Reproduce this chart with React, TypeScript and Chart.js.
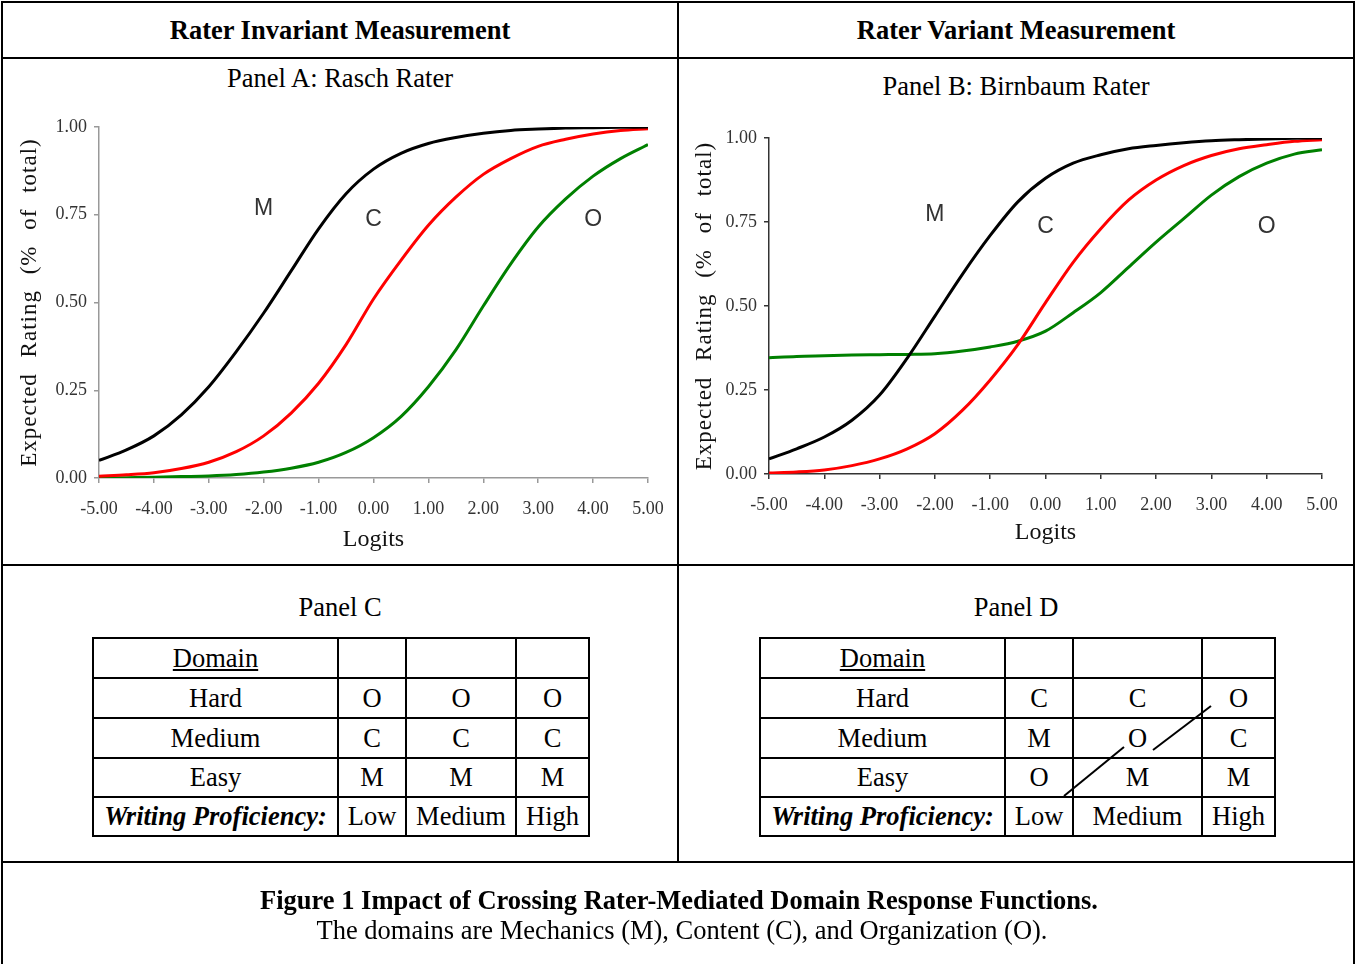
import React, { useEffect, useRef } from "react";
import { Chart, registerables } from "chart.js";

Chart.register(...registerables);

// ---------- data ----------
const LOGITS = [-5, -4.5, -4, -3.5, -3, -2.5, -2, -1.5, -1, -0.5, 0, 0.5, 1, 1.5, 2, 2.5, 3, 3.5, 4, 4.5, 5];

// Panel A: Rasch rater
const RASCH_M = [0.05, 0.08, 0.12, 0.18, 0.26, 0.36, 0.47, 0.59, 0.71, 0.81, 0.88, 0.925, 0.953, 0.97, 0.982, 0.99, 0.994, 0.997, 0.998, 0.999, 1.0];
const RASCH_C = [0.005, 0.009, 0.015, 0.027, 0.045, 0.075, 0.12, 0.185, 0.27, 0.38, 0.51, 0.62, 0.72, 0.8, 0.865, 0.91, 0.945, 0.965, 0.98, 0.99, 0.995];
const RASCH_O = [0.0, 0.001, 0.002, 0.004, 0.006, 0.01, 0.017, 0.028, 0.045, 0.073, 0.115, 0.175, 0.26, 0.365, 0.49, 0.61, 0.715, 0.795, 0.86, 0.91, 0.95];

// Panel B: Birnbaum rater
const BIRN_M = [0.045, 0.075, 0.11, 0.16, 0.235, 0.345, 0.47, 0.595, 0.71, 0.81, 0.88, 0.925, 0.95, 0.968, 0.978, 0.986, 0.992, 0.995, 0.997, 0.999, 1.0];
const BIRN_C = [0.003, 0.006, 0.012, 0.025, 0.045, 0.075, 0.12, 0.19, 0.28, 0.385, 0.51, 0.63, 0.73, 0.815, 0.875, 0.918, 0.948, 0.968, 0.98, 0.99, 0.995];
const BIRN_O = [0.346, 0.35, 0.352, 0.354, 0.355, 0.356, 0.358, 0.366, 0.378, 0.395, 0.425, 0.48, 0.54, 0.615, 0.69, 0.76, 0.83, 0.885, 0.925, 0.952, 0.965];

const DOMAIN_LABELS = ["M", "C", "O"];
const DOMAIN_COLORS = ["#000000", "#ff0000", "#008000"];
const RASCH_LABEL_X = [-2, 0, 4];
const RASCH_LABEL_Y = [0.766, 0.735, 0.735];
const BIRN_LABEL_X = [-2, 0, 4];
const BIRN_LABEL_Y = [0.771, 0.735, 0.735];

const X_TITLE = "Logits";
const Y_TITLE = "Expected Rating (% of total)";

const DIFFICULTY_ROWS = ["Hard", "Medium", "Easy"];
const PROFICIENCY = ["Low", "Medium", "High"];
const PANEL_C = [
  ["O", "O", "O"],
  ["C", "C", "C"],
  ["M", "M", "M"],
];
const PANEL_D = [
  ["C", "C", "O"],
  ["M", "O", "C"],
  ["O", "M", "M"],
];

const SERIF = '"Liberation Serif", "Times New Roman", serif';
const SANS = '"Liberation Sans", Arial, sans-serif';

type ChartProps = {
  left: number;
  top: number;
  width: number;
  height: number;
  series: number[][];
  labelX: number[];
  labelY: number[];
  axisColor: string;
  yWidth: number;
  xHeight: number;
  padTop: number;
  padRight: number;
  yTitlePad: number;
  xTitlePad: number;
  xTickPad: number;
};

function CurveChart(p: ChartProps) {
  const ref = useRef<HTMLCanvasElement | null>(null);
  useEffect(() => {
    if (!ref.current) return;
    const labelPlugin = {
      id: "domainLabels",
      beforeDraw(chart: any) {
        const ys = chart.scales.y;
        if (ys && !ys._lsPatched) {
          const orig = ys.drawTitle.bind(ys);
          ys.drawTitle = function () {
            const ctx = chart.ctx;
            ctx.save();
            (ctx as any).letterSpacing = "1px";
            (ctx as any).wordSpacing = "9px";
            orig();
            ctx.restore();
          };
          ys._lsPatched = true;
        }
      },
      afterDatasetsDraw(chart: any) {
        const ctx = chart.ctx;
        ctx.save();
        ctx.font = `23px ${SANS}`;
        ctx.fillStyle = "#333333";
        ctx.textAlign = "center";
        ctx.textBaseline = "middle";
        DOMAIN_LABELS.forEach((t, i) => {
          ctx.fillText(t, chart.scales.x.getPixelForValue(p.labelX[i]), chart.scales.y.getPixelForValue(p.labelY[i]));
        });
        ctx.restore();
      },
    };
    const chart = new Chart(ref.current, {
      type: "line",
      data: {
        datasets: p.series.map((s, i) => ({
          label: DOMAIN_LABELS[i],
          data: LOGITS.map((x, j) => ({ x, y: s[j] })),
          borderColor: DOMAIN_COLORS[i],
          backgroundColor: DOMAIN_COLORS[i],
          borderWidth: 3,
          pointRadius: 0,
          cubicInterpolationMode: "monotone" as const,
          fill: false,
        })),
      },
      options: {
        animation: false,
        responsive: false,
        events: [],
        layout: { autoPadding: false, padding: { top: p.padTop, right: p.padRight, left: 0, bottom: 0 } },
        plugins: { legend: { display: false }, tooltip: { enabled: false } },
        scales: {
          x: {
            type: "linear",
            min: -5,
            max: 5,
            afterFit: (s: any) => {
              s.height = p.xHeight;
              s.paddingLeft = 0;
              s.paddingRight = 0;
            },
            ticks: {
              stepSize: 1,
              padding: p.xTickPad,
              color: "#333333",
              font: { family: SERIF, size: 18 },
              callback: (v: any) => Number(v).toFixed(2),
            },
            grid: { drawOnChartArea: false, drawTicks: true, tickLength: 5, color: p.axisColor, lineWidth: 1.5 },
            border: { display: true, color: p.axisColor, width: 1.5 },
            title: {
              display: true,
              text: X_TITLE,
              color: "#111111",
              font: { family: SERIF, size: 24 },
              padding: { top: 0, bottom: p.xTitlePad },
            },
          },
          y: {
            type: "linear",
            min: 0,
            max: 1,
            afterFit: (s: any) => {
              s.width = p.yWidth;
              s.paddingTop = 0;
              s.paddingBottom = 0;
            },
            ticks: {
              stepSize: 0.25,
              padding: 7,
              color: "#333333",
              font: { family: SERIF, size: 18 },
              callback: (v: any) => Number(v).toFixed(2),
            },
            grid: { drawOnChartArea: false, drawTicks: true, tickLength: 5, color: p.axisColor, lineWidth: 1.5 },
            border: { display: true, color: p.axisColor, width: 1.5 },
            title: {
              display: true,
              text: Y_TITLE,
              color: "#111111",
              font: { family: SERIF, size: 23 },
              padding: { top: p.yTitlePad, bottom: 0 },
            },
          },
        },
      },
      plugins: [labelPlugin],
    } as any);
    return () => chart.destroy();
  }, []);
  return (
    <canvas
      ref={ref}
      width={p.width}
      height={p.height}
      style={{ position: "absolute", left: p.left, top: p.top, width: p.width, height: p.height }}
    />
  );
}

function Txt({ x, y, children, style }: { x: number; y: number; children: any; style?: any }) {
  return (
    <div
      style={{
        position: "absolute",
        left: x,
        top: y,
        transform: "translate(-50%, -50%)",
        whiteSpace: "nowrap",
        lineHeight: 1,
        fontSize: 26.5,
        ...style,
      }}
    >
      {children}
    </div>
  );
}

function Line({ x, y, w, h }: { x: number; y: number; w: number; h: number }) {
  return <div style={{ position: "absolute", left: x, top: y, width: w, height: h, background: "#000" }} />;
}

function GridTable({ colEdges, rowEdges, cells }: { colEdges: number[]; rowEdges: number[]; cells: any[][] }) {
  const out: any[] = [];
  for (let r = 0; r < rowEdges.length - 1; r++) {
    for (let c = 0; c < colEdges.length - 1; c++) {
      out.push(
        <div
          key={`${r}-${c}`}
          style={{
            position: "absolute",
            left: colEdges[c],
            top: rowEdges[r],
            width: colEdges[c + 1] - colEdges[c] + 2,
            height: rowEdges[r + 1] - rowEdges[r] + 2,
            border: "2px solid #000",
            boxSizing: "border-box",
            display: "flex",
            alignItems: "center",
            justifyContent: "center",
            fontSize: 26.5,
            lineHeight: 1,
            whiteSpace: "nowrap",
          }}
        >
          {cells[r][c]}
        </div>
      );
    }
  }
  return <>{out}</>;
}

function buildCells(letters: string[][]) {
  const rows: any[][] = [];
  rows.push([<span style={{ textDecoration: "underline" }}>Domain</span>, "", "", ""]);
  DIFFICULTY_ROWS.forEach((d, i) => rows.push([d, ...letters[i]]));
  rows.push([<b><i>Writing Proficiency:</i></b>, ...PROFICIENCY]);
  return rows;
}

export default function App() {
  const rowEdges = [637, 677, 717, 757, 796, 835];
  return (
    <div
      style={{
        position: "absolute",
        left: 0,
        top: 0,
        width: 1356,
        height: 964,
        overflow: "hidden",
        background: "#fff",
        fontFamily: SERIF,
        color: "#000",
      }}
    >
      {/* outer frame and dividers */}
      <div
        style={{
          position: "absolute",
          left: 1,
          top: 1,
          width: 1354,
          height: 1000,
          border: "2px solid #000",
          boxSizing: "border-box",
        }}
      />
      <Line x={1} y={57} w={1354} h={2} />
      <Line x={1} y={564} w={1354} h={2} />
      <Line x={1} y={861} w={1354} h={2} />
      <Line x={677} y={1} w={2} h={862} />

      <Txt x={340} y={30} style={{ fontWeight: "bold" }}>Rater Invariant Measurement</Txt>
      <Txt x={1016} y={30} style={{ fontWeight: "bold" }}>Rater Variant Measurement</Txt>

      <Txt x={340} y={78}>Panel A: Rasch Rater</Txt>
      <Txt x={1016} y={86}>Panel B: Birnbaum Rater</Txt>

      <CurveChart
        left={10}
        top={110}
        width={660}
        height={450}
        series={[RASCH_M, RASCH_C, RASCH_O]}
        labelX={RASCH_LABEL_X}
        labelY={RASCH_LABEL_Y}
        axisColor="#999999"
        yWidth={89}
        xHeight={82}
        padTop={17}
        padRight={22}
        yTitlePad={6}
        xTitlePad={6}
        xTickPad={15}
      />
      <CurveChart
        left={690}
        top={110}
        width={660}
        height={450}
        series={[BIRN_M, BIRN_C, BIRN_O]}
        labelX={BIRN_LABEL_X}
        labelY={BIRN_LABEL_Y}
        axisColor="#333333"
        yWidth={79}
        xHeight={86}
        padTop={28}
        padRight={28}
        yTitlePad={1}
        xTitlePad={13}
        xTickPad={15}
      />

      <Txt x={340} y={607}>Panel C</Txt>
      <Txt x={1016} y={607}>Panel D</Txt>

      <GridTable colEdges={[92, 337, 405, 515, 588]} rowEdges={rowEdges} cells={buildCells(PANEL_C)} />
      <GridTable colEdges={[759, 1004, 1072, 1201, 1274]} rowEdges={rowEdges} cells={buildCells(PANEL_D)} />

      <svg
        width={1356}
        height={964}
        style={{ position: "absolute", left: 0, top: 0, pointerEvents: "none" }}
      >
        <line x1={1064} y1={796} x2={1124} y2={747} stroke="#000" strokeWidth={2} />
        <line x1={1153} y1={750} x2={1211} y2={706} stroke="#000" strokeWidth={2} />
      </svg>

      <Txt x={679} y={900} style={{ fontWeight: "bold" }}>
        Figure 1 Impact of Crossing Rater-Mediated Domain Response Functions.
      </Txt>
      <Txt x={682} y={930}>The domains are Mechanics (M), Content (C), and Organization (O).</Txt>
    </div>
  );
}
